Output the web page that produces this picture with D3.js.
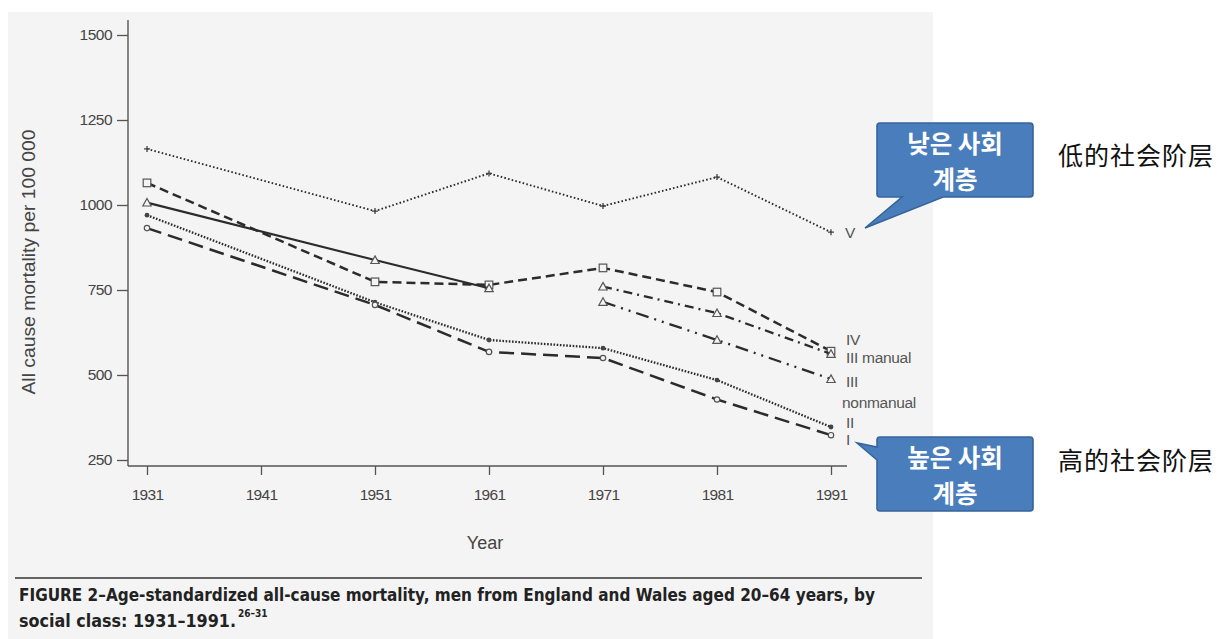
<!DOCTYPE html>
<html>
<head>
<meta charset="utf-8">
<script src="https://cdn.jsdelivr.net/npm/d3@7"></script>
<style>
  html, body { margin: 0; padding: 0; background: #fff; }
  svg { display: block; }
</style>
</head>
<body>
<svg id="chart" width="1228" height="639"></svg>
<script>
// Census years and age-standardised all-cause mortality (per 100 000), by social class
const years = [1931, 1951, 1961, 1971, 1981, 1991];
const classV = [1165, 982, 1093, 997, 1082, 920];
const classIV = [1065, 774, 765, 815, 744, 570];
const classIII = [1007, 838, 755];                 // 1931-1961, before the split
const yearsIII = [1931, 1951, 1961];
const classIIIManual = [760, 682, 562];            // 1971-1991
const classIIINonmanual = [715, 603, 488];
const yearsSplit = [1971, 1981, 1991];
const classII = [970, 714, 603, 579, 485, 347];
const classI = [932, 706, 568, 550, 428, 323];

const xTicks = [1931, 1941, 1951, 1961, 1971, 1981, 1991];
const yTicks = [250, 500, 750, 1000, 1250, 1500];
const classLabels = ["V", "IV", "III manual", "III", "nonmanual", "II", "I"];
const calloutLow = ["낮은 사회", "계층"];
const calloutHigh = ["높은 사회", "계층"];
const noteLow = "低的社会阶层";
const noteHigh = "高的社会阶层";

const svg = d3.select("#chart");

// printed page background
svg.append("rect").attr("x", 8).attr("y", 12).attr("width", 925).attr("height", 627)
  .attr("fill", "#f4f4f4");

const x = d3.scaleLinear().domain([1931, 1991]).range([147, 831]);
const y = d3.scaleLinear().domain([250, 1500]).range([460, 35]);

const axisColor = "#555";
const inkColor = "#2b2b2b";
const sans = "'Liberation Sans', Arial, sans-serif";

// y axis
const gy = svg.append("g").attr("transform", "translate(128,0)")
  .call(d3.axisLeft(y).tickValues(yTicks).tickSize(11).tickPadding(5).tickFormat(d3.format("d")));
gy.select(".domain").remove();
gy.selectAll("line").attr("stroke", axisColor).attr("stroke-width", 1.3);
gy.selectAll("text").attr("font-family", sans).attr("font-size", 15.5).attr("fill", "#444")
  .attr("letter-spacing", -0.5);
svg.append("line").attr("x1", 128).attr("x2", 128).attr("y1", 20).attr("y2", 466)
  .attr("stroke", axisColor).attr("stroke-width", 1.4);

// x axis
const gx = svg.append("g").attr("transform", "translate(0,466)")
  .call(d3.axisBottom(x).tickValues(xTicks).tickSize(9).tickPadding(14).tickFormat(d3.format("d")));
gx.select(".domain").remove();
gx.selectAll("line").attr("stroke", axisColor).attr("stroke-width", 1.3);
gx.selectAll("text").attr("font-family", sans).attr("font-size", 15.5).attr("fill", "#444")
  .attr("letter-spacing", -0.7);
svg.append("line").attr("x1", 128).attr("x2", 847).attr("y1", 466).attr("y2", 466)
  .attr("stroke", axisColor).attr("stroke-width", 1.4);

// axis titles
svg.append("text").attr("x", 485).attr("y", 549).attr("text-anchor", "middle")
  .attr("font-family", sans).attr("font-size", 18).attr("fill", "#444").text("Year");
svg.append("text").attr("transform", "translate(35,262) rotate(-90)").attr("text-anchor", "middle")
  .attr("font-family", sans).attr("font-size", 18).attr("fill", "#444")
  .attr("textLength", 265).attr("lengthAdjust", "spacingAndGlyphs")
  .text("All cause mortality per 100 000");

// series
const line = d3.line().x(d => x(d[0])).y(d => y(d[1]));
const pair = (ys, vs) => ys.map((yr, i) => [yr, vs[i]]);

const series = [
  { pts: pair(years, classV), dash: "1.6,2.2", width: 1.9, marker: "plus" },
  { pts: pair(years, classIV), dash: "9,5", width: 2.5, marker: "square" },
  { pts: pair(yearsIII, classIII), dash: null, width: 2.1, marker: "triangle" },
  { pts: pair(yearsSplit, classIIIManual), dash: "9,5,2,5", width: 2.3, marker: "triangle" },
  { pts: pair(yearsSplit, classIIINonmanual), dash: "13,6,2,6,2,6", width: 2.3, marker: "triangle" },
  { pts: pair(years, classII), dash: "1.6,1.6", width: 2.3, marker: "dot" },
  { pts: pair(years, classI), dash: "15,7", width: 2.5, marker: "circle" }
];

const gLines = svg.append("g");
series.forEach(s => {
  gLines.append("path").datum(s.pts).attr("d", line)
    .attr("fill", "none").attr("stroke", inkColor).attr("stroke-width", s.width)
    .attr("stroke-dasharray", s.dash);
  const gm = gLines.append("g");
  s.pts.forEach(p => {
    const cx = x(p[0]), cy = y(p[1]);
    if (s.marker === "square") {
      gm.append("rect").attr("x", cx - 3.8).attr("y", cy - 3.8).attr("width", 7.6).attr("height", 7.6)
        .attr("fill", "#f4f4f4").attr("stroke", "#555").attr("stroke-width", 1.2);
    } else if (s.marker === "triangle") {
      gm.append("path").attr("d", `M${cx},${cy - 4.2}L${cx + 4.2},${cy + 3.4}L${cx - 4.2},${cy + 3.4}Z`)
        .attr("fill", "#f4f4f4").attr("stroke", "#555").attr("stroke-width", 1.2);
    } else if (s.marker === "circle") {
      gm.append("circle").attr("cx", cx).attr("cy", cy).attr("r", 2.7)
        .attr("fill", "#f4f4f4").attr("stroke", "#555").attr("stroke-width", 1.2);
    } else if (s.marker === "dot") {
      gm.append("circle").attr("cx", cx).attr("cy", cy).attr("r", 2.4).attr("fill", "#444");
    } else {
      gm.append("path").attr("d", `M${cx - 3},${cy}H${cx + 3}M${cx},${cy - 3}V${cy + 3}`)
        .attr("stroke", "#444").attr("stroke-width", 1.3);
    }
  });
});

// class labels at the right-hand end
const labelPos = [[845, 233], [846, 340], [846, 358], [846, 382], [842, 403], [846, 423], [846, 440]];
svg.append("g").selectAll("text").data(classLabels).join("text")
  .attr("x", (d, i) => labelPos[i][0]).attr("y", (d, i) => labelPos[i][1])
  .attr("dy", "0.35em").attr("font-family", sans).attr("font-size", 15.5).attr("fill", "#555")
  .attr("letter-spacing", -0.3)
  .text(d => d);

// callouts: speech bubble with two centred lines
function callout(path, lines, cx, baseline) {
  const g = svg.append("g");
  g.append("path").attr("d", path).attr("fill", "#4a7dbc").attr("stroke", "#35649b").attr("stroke-width", 1.6);
  lines.forEach((s, i) => {
    g.append("text").attr("x", cx).attr("y", baseline + i * 35.6).attr("text-anchor", "middle")
      .attr("font-family", "'Noto Sans CJK KR', sans-serif").attr("font-weight", 700)
      .attr("font-size", 24.5).attr("fill", "#fff").text(s);
  });
}
callout("M880,123H1030Q1033,123 1033,126V194Q1033,197 1030,197H943L865,228L902,197H880Q877,197 877,194V126Q877,123 880,123Z",
  calloutLow, 955, 153);
callout("M880,437H1030Q1033,437 1033,440V508Q1033,511 1030,511H880Q877,511 877,508V460L857,443L877,447V440Q877,437 880,437Z",
  calloutHigh, 955, 467);

// notes on the right
const cjk = "'Noto Sans CJK SC', sans-serif";
svg.append("text").attr("x", 1058).attr("y", 165).attr("font-family", cjk).attr("font-size", 25)
  .attr("fill", "#111").attr("letter-spacing", 1).text(noteLow);
svg.append("text").attr("x", 1058).attr("y", 470).attr("font-family", cjk).attr("font-size", 25)
  .attr("fill", "#111").attr("letter-spacing", 1).text(noteHigh);

// caption
svg.append("line").attr("x1", 15).attr("x2", 922).attr("y1", 578).attr("y2", 578)
  .attr("stroke", "#333").attr("stroke-width", 1.3);
const capFont = "'Liberation Sans Narrow', 'DejaVu Sans Condensed', sans-serif";
svg.append("text").attr("x", 19).attr("y", 601).attr("font-family", capFont).attr("font-weight", 700)
  .attr("font-size", 17.5).attr("fill", "#222").attr("textLength", 856).attr("lengthAdjust", "spacingAndGlyphs")
  .text("FIGURE 2–Age-standardized all-cause mortality, men from England and Wales aged 20–64 years, by");
const cap2 = svg.append("text").attr("x", 19).attr("y", 627).attr("font-family", capFont).attr("font-weight", 700)
  .attr("font-size", 17.5).attr("fill", "#222");
cap2.append("tspan").attr("textLength", 217).attr("lengthAdjust", "spacingAndGlyphs").text("social class: 1931–1991.");
cap2.append("tspan").attr("dy", -10).attr("font-size", 10).attr("dx", 2).text("26–31");
</script>
</body>
</html>
